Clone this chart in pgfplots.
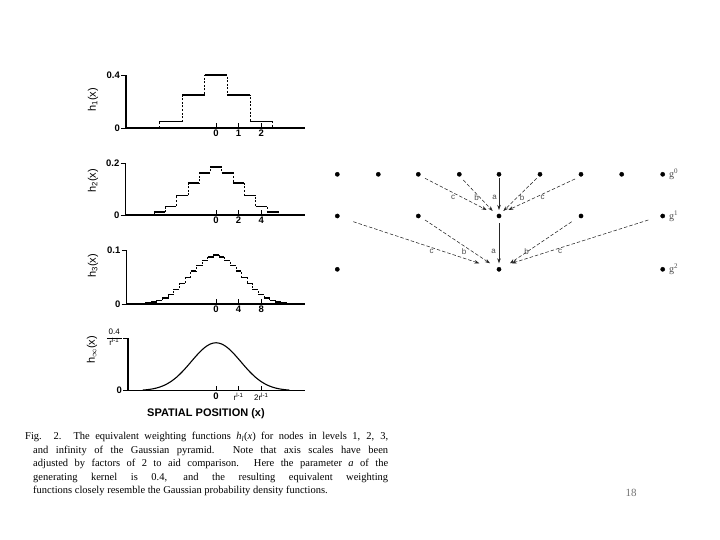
\documentclass[border=0pt]{standalone}
\usepackage{pgfplots}
\pgfplotsset{compat=1.18}
\usepackage{fontspec}
\setmainfont{Liberation Serif}
\setsansfont{Liberation Sans}
\usetikzlibrary{arrows.meta}

\pgfplotsset{
  panel/.style={scale only axis, axis lines=left,
    axis line style={-, line width=1.2pt, black}, clip=false, ymin=0,
    xtick align=inside, ytick align=outside,
    major tick length=5pt, tick style={line width=0.9pt, black},
    ticklabel style={font=\sffamily\bfseries\fontsize{9.5}{9.5}\selectfont, inner sep=1pt},
    xticklabel style={yshift=-1pt}},
  stepH/.style={jump mark left, line width=1.6pt, black},
  stepV/.style={const plot mark left, line width=0.5pt, dash pattern=on 2pt off 1.6pt, black},
  arr/.style={-{Stealth[length=5pt,width=3.5pt]}, line width=0.55pt, black!85, dash pattern=on 3.5pt off 2pt},
  arrs/.style={-{Stealth[length=5pt,width=3.5pt]}, line width=0.6pt, black!85},
}
\newcommand{\lbl}{\sffamily\fontsize{11}{11}\selectfont}
\newcommand{\capfont}{\rmfamily\fontsize{10.5}{12}\selectfont}

\begin{document}
\begin{tikzpicture}[x=1pt,y=1pt]
\path[use as bounding box, fill=white] (0,0) rectangle (720,540);

% ---------- panel 1 ----------
\begin{axis}[panel, at={(126pt,412pt)}, anchor=south west, width=179pt, height=53pt,
  xmin=-3.982, xmax=3.938, ymax=0.4, xtick={0,1,2}, xticklabels={0,1,2},
  ytick={0,0.4}, yticklabels={0,0.4}]
\addplot[stepV] coordinates {(-2.5,0)(-2.5,0.05)(-1.5,0.25)(-0.5,0.4)(0.5,0.25)(1.5,0.05)(2.5,0)};
\addplot[stepH] coordinates {(-2.5,0.05)(-1.5,0.25)(-0.5,0.4)(0.5,0.25)(1.5,0.05)(2.5,0.05)};
\end{axis}
\node[rotate=90] at (93,440) {\lbl h\textsubscript{1}(x)};

% ---------- panel 2 ----------
\begin{axis}[panel, at={(125.5pt,325pt)}, anchor=south west, width=179.5pt, height=52pt,
  xmin=-8.01, xmax=7.876, ymax=0.2, xtick={0,2,4}, xticklabels={0,2,4},
  ytick={0,0.2}, yticklabels={0,0.2}]
\addplot[stepV] coordinates {(-6.5,0)(-6.5,0.0025)(-5.5,0.0125)(-4.5,0.0325)(-3.5,0.075)(-2.5,0.1225)(-1.5,0.1625)(-0.5,0.185)(0.5,0.1625)(1.5,0.1225)(2.5,0.075)(3.5,0.0325)(4.5,0.0125)(5.5,0.0025)(6.5,0)};
\addplot[stepH] coordinates {(-6.5,0.0025)(-5.5,0.0125)(-4.5,0.0325)(-3.5,0.075)(-2.5,0.1225)(-1.5,0.1625)(-0.5,0.185)(0.5,0.1625)(1.5,0.1225)(2.5,0.075)(3.5,0.0325)(4.5,0.0125)(5.5,0.0025)(6.5,0.0025)};
\end{axis}
\node[rotate=90] at (93,359) {\lbl h\textsubscript{2}(x)};

% ---------- panel 3 ----------
\begin{axis}[panel, at={(126.5pt,236pt)}, anchor=south west, width=178.5pt, height=54pt,
  xmin=-15.84, xmax=15.75, ymax=0.1, xtick={0,4,8}, xticklabels={0,4,8},
  ytick={0,0.1}, yticklabels={0,0.1}]
\addplot[stepV] coordinates {(-14.5,0)(-14.5,0.000125)(-13.5,0.000625)(-12.5,0.001625)(-11.5,0.00375)(-10.5,0.00675)(-9.5,0.01125)(-8.5,0.017375)(-7.5,0.026875)(-6.5,0.03775)(-5.5,0.049375)(-4.5,0.060875)(-3.5,0.07125)(-2.5,0.080375)(-1.5,0.086875)(-0.5,0.09025)(0.5,0.086875)(1.5,0.080375)(2.5,0.07125)(3.5,0.060875)(4.5,0.049375)(5.5,0.03775)(6.5,0.026875)(7.5,0.017375)(8.5,0.01125)(9.5,0.00675)(10.5,0.00375)(11.5,0.001625)(12.5,0.000625)(13.5,0.000125)(14.5,0)};
\addplot[stepH] coordinates {(-14.5,0.000125)(-13.5,0.000625)(-12.5,0.001625)(-11.5,0.00375)(-10.5,0.00675)(-9.5,0.01125)(-8.5,0.017375)(-7.5,0.026875)(-6.5,0.03775)(-5.5,0.049375)(-4.5,0.060875)(-3.5,0.07125)(-2.5,0.080375)(-1.5,0.086875)(-0.5,0.09025)(0.5,0.086875)(1.5,0.080375)(2.5,0.07125)(3.5,0.060875)(4.5,0.049375)(5.5,0.03775)(6.5,0.026875)(7.5,0.017375)(8.5,0.01125)(9.5,0.00675)(10.5,0.00375)(11.5,0.001625)(12.5,0.000625)(13.5,0.000125)(14.5,0.000125)};
\end{axis}
\node[rotate=90] at (93,274) {\lbl h\textsubscript{3}(x)};

% ---------- panel 4 ----------
\begin{axis}[panel, at={(128pt,149.3pt)}, anchor=south west, width=177pt, height=52.7pt,
  xmin=-3.894, xmax=3.938, ymax=0.4, xtick={0,1,2},
  xticklabels={0, {\mdseries\fontsize{8}{8}\selectfont r\textsuperscript{l-1}}, {\mdseries\fontsize{8}{8}\selectfont 2r\textsuperscript{l-1}}},
  ytick={0,0.4},
  yticklabels={0, {\mdseries\fontsize{8}{8}\selectfont\begin{tabular}{@{}c@{}}0.4\\[-3.5pt]\rule{15pt}{0.6pt}\\[-3pt]r\textsuperscript{l-1}\end{tabular}}}]
\addplot[line width=1.1pt, black, smooth] coordinates {(-3.25,0.0045)(-3,0.0086)(-2.75,0.0156)(-2.5,0.0269)(-2.25,0.0442)(-2,0.0688)(-1.75,0.1016)(-1.5,0.1425)(-1.25,0.1898)(-1,0.24)(-0.75,0.2879)(-0.5,0.328)(-0.25,0.3546)(0,0.364)(0.25,0.3546)(0.5,0.328)(0.75,0.2879)(1,0.24)(1.25,0.1898)(1.5,0.1425)(1.75,0.1016)(2,0.0688)(2.25,0.0442)(2.5,0.0269)(2.75,0.0156)(3,0.0086)(3.25,0.0045)};
\end{axis}
\node[rotate=90] at (92,190) {\lbl h\textsubscript{$\infty$}(x)};
\node at (206,126) {\sffamily\bfseries\fontsize{11}{11}\selectfont SPATIAL POSITION (x)};

% ---------- pyramid ----------
\begin{axis}[at={(320pt,250pt)}, anchor=south west, scale only axis, width=380pt, height=140pt,
  xmin=320, xmax=700, ymin=150, ymax=290, y dir=reverse, hide axis, clip=false]
\addplot[only marks, mark=*, mark size=2.1pt, black] coordinates {
 (337.3,174.3)(378.3,174.3)(418.3,174.3)(459.3,174.3)(499,174.3)(540,174.3)(581,174.3)(621.7,174.3)(662.7,174.3)
 (337.3,216)(418.3,216)(499,216)(581,216)(662.7,216)
 (337.3,269.3)(499,269.3)(662.7,269.3)};
\addplot[arr] coordinates {(425,178.3)(486.7,210)};
\addplot[arr] coordinates {(463.3,180)(492.7,211)};
\addplot[arrs] coordinates {(499,178.3)(499,210)};
\addplot[arr] coordinates {(536.7,178.3)(503.3,211)};
\addplot[arr] coordinates {(575,179)(508.3,210)};
\addplot[arr] coordinates {(353.3,221.7)(479.3,263.3)};
\addplot[arr] coordinates {(425,220)(490,263.3)};
\addplot[arrs] coordinates {(499,223.3)(499,263.3)};
\addplot[arr] coordinates {(571.7,221.7)(510,263.3)};
\addplot[arr] coordinates {(648.3,220)(511.7,263.3)};
\begin{scope}[every node/.style={font=\sffamily\fontsize{8}{8}\selectfont, text=black!70, inner sep=0}]
\node at (axis cs:453,197.7) {c};
\node at (axis cs:476.7,197.7) {b};
\node at (axis cs:494.5,197.7) {a};
\node at (axis cs:522,197.7) {b};
\node at (axis cs:542.7,197.7) {c};
\node at (axis cs:431.7,251.7) {c};
\node at (axis cs:464,251.7) {b};
\node at (axis cs:493.5,251.7) {a};
\node at (axis cs:526.7,251.7) {b};
\node at (axis cs:560,251.7) {c};
\end{scope}
\begin{scope}[every node/.style={font=\rmfamily\fontsize{10}{10}\selectfont, text=black!70, anchor=west, inner sep=0}]
\node at (axis cs:669,174) {g\textsuperscript{0}};
\node at (axis cs:669,216) {g\textsuperscript{1}};
\node at (axis cs:669,269) {g\textsuperscript{2}};
\end{scope}
\end{axis}

% ---------- caption ----------
\node[anchor=base west, inner sep=0] at (25,100) {\capfont\makebox[363pt][s]{Fig. 2. The equivalent weighting functions \textit{h}\textsubscript{\textit{l}}(\textit{x}) for nodes in levels 1, 2, 3,}};
\node[anchor=base west, inner sep=0] at (33,86.5) {\capfont\makebox[355pt][s]{and infinity of the Gaussian pyramid. Note that axis scales have been}};
\node[anchor=base west, inner sep=0] at (33,73) {\capfont\makebox[355pt][s]{adjusted by factors of 2 to aid comparison. Here the parameter \textit{a} of the}};
\node[anchor=base west, inner sep=0] at (33,59.5) {\capfont\makebox[355pt][s]{generating kernel is 0.4, and the resulting equivalent weighting}};
\node[anchor=base west, inner sep=0] at (33,46) {\capfont functions closely resemble the Gaussian probability density functions.};

\node[anchor=base, inner sep=0, text=black!55] at (631,43) {\rmfamily\fontsize{11}{11}\selectfont 18};
\end{tikzpicture}
\end{document}
